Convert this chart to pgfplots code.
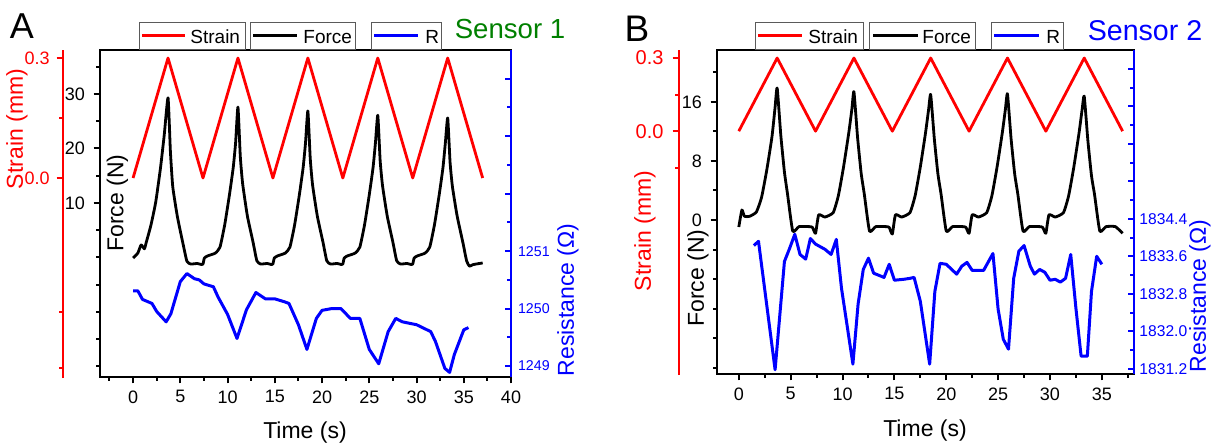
\documentclass[border=0pt]{standalone}
\usepackage{fontspec}
\setmainfont{Liberation Sans}
\usepackage{pgfplots}
\pgfplotsset{compat=1.18}
\definecolor{cred}{RGB}{255,0,0}
\definecolor{cblue}{RGB}{0,0,255}
\definecolor{cgreen}{RGB}{0,128,0}
\definecolor{lgbox}{RGB}{90,90,90}

\pgfplotsset{
  common/.style={scale only axis, anchor=south west,
    /pgf/number format/assume math mode=true, scaled ticks=false},
  mainax/.style={common, xtick pos=left, ytick pos=left, tick align=outside,
    axis line style={line width=1.2pt, black},
    tick style={line width=1pt, black},
    major tick length=3.2pt, minor tick length=1.8pt,
    tick label style={font=\fontsize{9}{10}\selectfont},
    yticklabel style={xshift=-0.8pt}},
  strainax/.style={common, width=1pt, xmin=0, xmax=1, axis x line=none, axis y line*=left,
    tick align=outside, y axis line style={cred, line width=1.4pt},
    tick style={cred, line width=1pt}, major tick length=3.2pt, minor tick length=1.8pt},
  resax/.style={common, axis x line=none, axis y line*=right, tick align=inside,
    y axis line style={cblue, line width=1.4pt},
    tick style={cblue, line width=1pt}, major tick length=3.2pt, minor tick length=1.8pt},
}

\begin{document}
\begin{tikzpicture}
\useasboundingbox (0pt,0pt) rectangle (607pt,-222pt);

% ================= Panel A =================
\begin{axis}[mainax, at={(50pt,-188.5pt)}, width=205.5pt, height=163.5pt,
  xmin=-3.5, xmax=40, ymin=-21.93, ymax=38.07,
  xtick={0,5,...,40}, minor xtick={-2.5,2.5,...,37.5},
  ytick={10,20,30}, minor ytick={-20,-15,-10,-5,0,5,15,25,35}]
\addplot[black, line width=1.4pt, line join=round, smooth, tension=0.3] coordinates {
(0,-0.1)(0.5,0.8)(0.85,2.3)(1.2,1.6)(1.4,2.8)(1.9,6.0)(2.4,10.2)(2.9,16.4)(3.3,22.5)(3.7,29.3)(3.95,19.5)(4.2,13.0)(4.7,7.4)(5.3,2.4)(5.7,-0.7)(6.1,-1.2)(6.8,-1.1)(7.25,-1.3)
(7.4,-1.2)(7.55,-0.1)(7.9,0.3)(8.7,0.8)(9.2,1.9)(9.7,6.0)(10.2,11.5)(10.6,16.5)(10.85,21.0)(11.1,27.6)(11.35,18.5)(11.6,13.5)(12.1,7.6)(12.7,2.8)(13.1,-0.6)(13.5,-1.2)(14.2,-1.1)(14.65,-1.3)
(14.8,-1.2)(14.95,-0.1)(15.3,0.3)(16.1,0.8)(16.6,1.9)(17.1,6.0)(17.6,11.5)(18.0,16.5)(18.25,21.0)(18.5,26.9)(18.75,18.2)(19.0,13.3)(19.5,7.6)(20.1,2.8)(20.5,-0.6)(20.9,-1.2)(21.6,-1.1)(22.05,-1.3)
(22.2,-1.2)(22.35,-0.1)(22.7,0.3)(23.5,0.8)(24.0,1.9)(24.5,6.0)(25.0,11.5)(25.4,16.5)(25.65,21.0)(25.9,26.1)(26.15,17.8)(26.4,13.2)(26.9,7.6)(27.5,2.8)(27.9,-0.6)(28.3,-1.2)(29.0,-1.1)(29.45,-1.3)
(29.6,-1.2)(29.75,-0.1)(30.1,0.3)(30.9,0.8)(31.4,1.9)(31.9,6.0)(32.4,11.5)(32.8,16.5)(33.05,21.0)(33.3,25.6)(33.55,17.5)(33.8,13.0)(34.3,7.6)(34.9,2.8)(35.3,-0.6)(35.6,-1.6)(36.0,-1.3)(37.0,-1.0)
};
\end{axis}

\begin{axis}[common, at={(50pt,-188.5pt)}, width=205.5pt, height=163.5pt,
  xmin=-3.5, xmax=40, ymin=-0.4975, ymax=0.32, hide axis]
\addplot[cred, line width=1.4pt, line join=round] coordinates {
(0,0)(3.7,0.3)(7.4,0)(11.1,0.3)(14.8,0)(18.5,0.3)(22.2,0)(25.9,0.3)(29.6,0)(33.3,0.3)(37,0)
};
\end{axis}

\begin{axis}[resax, at={(50pt,-188.5pt)}, width=205.5pt, height=163.5pt,
  xmin=-3.5, xmax=40, ymin=1248.81, ymax=1254.5,
  ytick={1249,1250,1251,1252,1253,1254}, yticklabels={1249,1250,1251,{},{},{}},
  minor ytick={1249.5,1250.5,1251.5,1252.5,1253.5},
  yticklabel style={cblue, font=\fontsize{7.1}{8}\selectfont}]
\addplot[cblue, line width=1.5pt, line join=round] coordinates {
(0,1250.31)(0.5,1250.31)(1,1250.16)(2,1250.09)(2.5,1249.95)(3,1249.86)(3.5,1249.77)(4,1249.91)(5,1250.47)(5.7,1250.61)(6.5,1250.52)(7,1250.50)(7.5,1250.43)(8.5,1250.38)(9,1250.2)(10,1249.9)(11,1249.48)(12,1249.98)(13,1250.28)(14,1250.17)(15,1250.17)(16,1250.12)(16.5,1250.09)(17.5,1249.72)(18.4,1249.29)(19.4,1249.83)(20,1249.97)(21,1250.0)(22,1250.0)(23,1249.83)(24,1249.83)(25,1249.29)(26,1249.04)(27,1249.6)(27.8,1249.83)(28.5,1249.77)(30,1249.72)(31.5,1249.6)(32,1249.43)(33,1248.96)(33.5,1248.89)(34,1249.2)(35,1249.63)(35.5,1249.67)
};
\end{axis}

\begin{axis}[strainax, at={(31.5pt,-189pt)}, height=164pt, ymin=-0.5, ymax=0.32,
  ytick={0,0.3}, yticklabels={0.0,0.3}, minor ytick={0.15,-0.335,-0.475},
  yticklabel style={cred, font=\fontsize{9}{10}\selectfont}]
\end{axis}

% ================= Panel B =================
\begin{axis}[mainax, at={(358.5pt,-187pt)}, width=208.5pt, height=162pt,
  xmin=-2.1, xmax=38.1, ymin=-20.88, ymax=23.05,
  xtick={0,5,...,35}, minor xtick={-2.5,2.5,...,37.5},
  ytick={0,8,16}, minor ytick={-20,-16,-12,-8,-4,4,12,20}]
\addplot[black, line width=1.4pt, line join=round, smooth, tension=0.3] coordinates {
(0,-0.95)(0.3,1.35)(0.55,0.5)(1.05,0.5)(1.7,1.1)(2.2,3.1)(2.7,6.8)(3.2,11.3)(3.5,15.3)(3.7,17.9)(4.05,11.5)(4.4,6.5)(4.7,3.5)(5.2,-1.5)(5.8,-0.9)(6.8,-0.9)(7.1,-1.0)
(7.4,-1.8)(7.7,0.7)(8.3,0.4)(9.1,1.0)(9.6,3.3)(10.1,7.2)(10.6,11.8)(10.9,15.0)(11.1,17.4)(11.45,11.2)(11.8,6.3)(12.1,3.5)(12.6,-1.5)(13.2,-0.9)(14.2,-0.9)(14.5,-1.0)
(14.8,-1.9)(15.1,0.7)(15.7,0.4)(16.5,1.0)(17.0,3.3)(17.5,7.2)(18.0,11.8)(18.3,15.0)(18.5,17.0)(18.85,11.0)(19.2,6.2)(19.5,3.5)(20.0,-1.5)(20.6,-0.9)(21.6,-0.9)(21.9,-1.0)
(22.2,-1.8)(22.5,0.7)(23.1,0.4)(23.9,1.0)(24.4,3.3)(24.9,7.2)(25.4,11.8)(25.7,15.0)(25.9,17.1)(26.25,11.0)(26.6,6.2)(26.9,3.5)(27.4,-1.5)(28.0,-0.9)(29.0,-0.9)(29.3,-1.0)
(29.6,-1.8)(29.9,0.7)(30.5,0.4)(31.3,1.0)(31.8,3.3)(32.3,7.2)(32.8,11.8)(33.1,15.0)(33.3,16.8)(33.65,10.8)(34.0,6.0)(34.3,3.4)(34.8,-1.5)(35.4,-0.9)(36.3,-0.9)(37.0,-1.8)
};
\end{axis}

\begin{axis}[common, at={(358.5pt,-187pt)}, width=208.5pt, height=162pt,
  xmin=-2.1, xmax=38.1, ymin=-0.996, ymax=0.333, hide axis]
\addplot[cred, line width=1.4pt, line join=round] coordinates {
(0,0)(3.7,0.3)(7.4,0)(11.1,0.3)(14.8,0)(18.5,0.3)(22.2,0)(25.9,0.3)(29.6,0)(33.3,0.3)(37,0)
};
\end{axis}

\begin{axis}[resax, at={(358.5pt,-187pt)}, width=208.5pt, height=162pt,
  xmin=-2.1, xmax=38.1, ymin=1831.09, ymax=1838.0,
  ytick={1831.2,1832.0,1832.8,1833.6,1834.4,1835.2,1836.0,1836.8,1837.6},
  yticklabels={1831.2,1832.0,1832.8,1833.6,1834.4,{},{},{},{}},
  minor ytick={1831.6,1832.4,1833.2,1834.0,1834.8,1835.6,1836.4,1837.2},
  yticklabel style={cblue, font=\fontsize{7.8}{9}\selectfont, xshift=-0.8pt}]
\addplot[cblue, line width=1.5pt, line join=round] coordinates {
(1.45,1833.83)(1.9,1833.92)(3.5,1831.18)(4.4,1833.49)(4.9,1833.77)(5.4,1834.07)(5.9,1833.64)(6.45,1833.54)(6.9,1833.98)(7.4,1833.86)(8.3,1833.75)(8.9,1833.64)(9.4,1833.96)(9.9,1832.92)(11.0,1831.30)(11.5,1832.58)(12.0,1833.32)(12.5,1833.56)(13.0,1833.24)(14.0,1833.15)(14.5,1833.43)(15.0,1833.09)(15.9,1833.11)(16.5,1833.13)(16.9,1833.15)(17.5,1832.64)(18.4,1831.30)(18.9,1832.85)(19.4,1833.45)(20.0,1833.43)(21.0,1833.22)(21.5,1833.39)(22.0,1833.47)(22.5,1833.30)(23.6,1833.30)(24.5,1833.66)(25.0,1832.47)(25.5,1831.83)(26.0,1831.62)(26.5,1833.13)(27.0,1833.71)(27.5,1833.83)(28.1,1833.39)(28.5,1833.22)(29.0,1833.32)(29.5,1833.26)(30.0,1833.09)(30.5,1833.11)(31.0,1833.05)(31.5,1833.13)(32.0,1833.64)(32.5,1832.49)(33.0,1831.47)(33.6,1831.47)(34.0,1832.85)(34.5,1833.6)(35.0,1833.43)
};
\end{axis}

\begin{axis}[strainax, at={(339.5pt,-187.5pt)}, height=162.5pt, ymin=-1.0, ymax=0.333,
  ytick={0,0.3}, yticklabels={0.0,0.3}, minor ytick={0.15,-0.15},
  yticklabel style={cred, font=\fontsize{10}{11}\selectfont, xshift=-1pt}]
\end{axis}

% ================= Legends =================
\begin{scope}[font=\fontsize{9.5}{11}\selectfont]
% Panel A
\draw[lgbox, line width=0.5pt] (69.5pt,-11.5pt) rectangle (122.5pt,-25pt);
\draw[cred, line width=1.5pt] (71pt,-17.75pt) -- (92.5pt,-17.75pt);
\node[anchor=base west, inner sep=0pt] at (95pt,-22pt) {Strain};
\draw[lgbox, line width=0.5pt] (125pt,-11.5pt) rectangle (177.5pt,-25pt);
\draw[black, line width=1.5pt] (126.5pt,-17.75pt) -- (148.5pt,-17.75pt);
\node[anchor=base west, inner sep=0pt] at (151.5pt,-22pt) {Force};
\draw[lgbox, line width=0.5pt] (185.5pt,-11.5pt) rectangle (220.5pt,-25pt);
\draw[cblue, line width=1.5pt] (187pt,-17.75pt) -- (209pt,-17.75pt);
\node[anchor=base west, inner sep=0pt] at (212.5pt,-22pt) {R};
% Panel B
\draw[lgbox, line width=0.5pt] (377.5pt,-11.5pt) rectangle (431.5pt,-25pt);
\draw[cred, line width=1.5pt] (379pt,-17.75pt) -- (401pt,-17.75pt);
\node[anchor=base west, inner sep=0pt] at (404pt,-22pt) {Strain};
\draw[lgbox, line width=0.5pt] (434.5pt,-11.5pt) rectangle (487.5pt,-25pt);
\draw[black, line width=1.5pt] (436.5pt,-17.75pt) -- (459pt,-17.75pt);
\node[anchor=base west, inner sep=0pt] at (461pt,-22pt) {Force};
\draw[lgbox, line width=0.5pt] (495.5pt,-11.5pt) rectangle (531.5pt,-25pt);
\draw[cblue, line width=1.5pt] (497pt,-17.75pt) -- (519.5pt,-17.75pt);
\node[anchor=base west, inner sep=0pt] at (523pt,-22pt) {R};
\end{scope}

% ================= Titles and labels =================
\node[anchor=base, inner sep=0pt, font=\fontsize{18}{20}\selectfont] at (11pt,-19.5pt) {A};
\node[anchor=base, inner sep=0pt, font=\fontsize{18.5}{20}\selectfont] at (318.5pt,-20.8pt) {B};
\node[anchor=base, inner sep=0pt, text=cgreen, font=\fontsize{13.8}{16}\selectfont] at (255pt,-19.5pt) {Sensor 1};
\node[anchor=base, inner sep=0pt, text=cblue, font=\fontsize{14.3}{16}\selectfont] at (572.5pt,-20.3pt) {Sensor 2};

\begin{scope}[font=\fontsize{11.5}{13}\selectfont]
\node[anchor=base, inner sep=0pt] at (152.5pt,-219pt) {Time (s)};
\node[anchor=base, inner sep=0pt] at (462.5pt,-218pt) {Time (s)};
\node[rotate=90, inner sep=0pt, text=cred] at (8.5pt,-64.5pt) {Strain (mm)};
\node[rotate=90, inner sep=0pt] at (58.75pt,-101.5pt) {Force (N)};
\node[rotate=90, inner sep=0pt, text=cblue] at (284pt,-150pt) {Resistance (\symbol{"03A9})};
\node[rotate=90, inner sep=0pt, text=cred] at (322.5pt,-115.5pt) {Strain (mm)};
\node[rotate=90, inner sep=0pt] at (349pt,-139pt) {Force (N)};
\node[rotate=90, inner sep=0pt, text=cblue] at (600pt,-148pt) {Resistance (\symbol{"03A9})};
\end{scope}
\end{tikzpicture}
\end{document}
